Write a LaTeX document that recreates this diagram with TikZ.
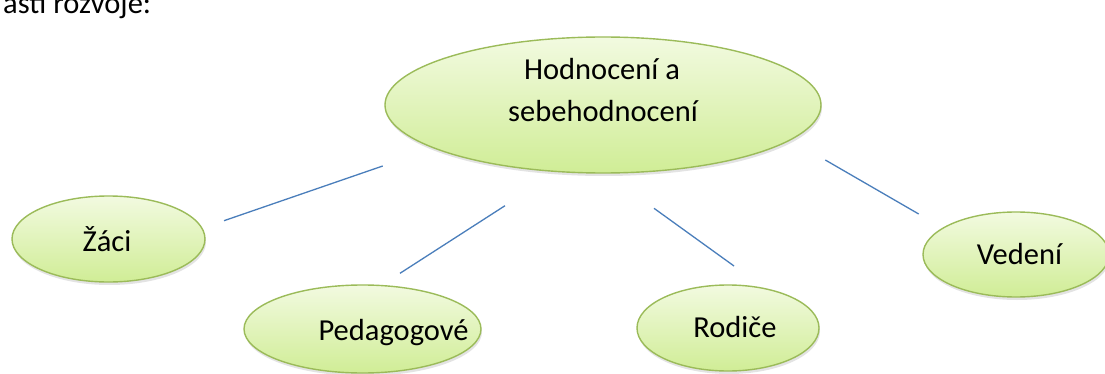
\documentclass[tikz,border=0pt]{standalone}
\usepackage{fontspec}
\setmainfont{Carlito}
\usetikzlibrary{shapes.geometric,shadows}
\definecolor{ebord}{RGB}{155,187,89}
\definecolor{etop}{RGB}{242,250,224}
\definecolor{ebot}{RGB}{208,237,150}
\definecolor{lblue}{RGB}{74,126,187}
\begin{document}
\begin{tikzpicture}[x=1pt,y=-1pt,
  bubble/.style={ellipse, draw=ebord, line width=1.4pt, top color=etop, bottom color=ebot,
    inner sep=0pt, drop shadow={opacity=0.22, shadow xshift=1pt, shadow yshift=-3pt}},
  lbl/.style={anchor=base, font=\fontsize{30.5}{42}\selectfont, inner sep=0pt, text=black},
  conn/.style={draw=lblue, line width=1.3pt}]
\useasboundingbox (0,0) rectangle (1105,374);
\clip (0,0) rectangle (1105,374);
\fill[white] (0,0) rectangle (1105,374);

\node[lbl, anchor=base west] (intro) at (3,14) {ásti rozvoje:};

\node[bubble, minimum width=436pt, minimum height=136pt] (main) at (603,105) {};
\node[bubble, minimum width=193pt, minimum height=86pt] (zaci) at (108.5,239) {};
\node[bubble, minimum width=237pt, minimum height=88pt] (ped) at (362.5,329) {};
\node[bubble, minimum width=182pt, minimum height=86pt] (rod) at (728,328) {};
\node[bubble, minimum width=186pt, minimum height=85pt] (ved) at (1016,254.5) {};

\node[lbl] (mainA) at (602,80) {Hodnocení a};
\node[lbl] (mainB) at (603,122) {sebehodnocení};
\node[lbl] (zacit) at (107,251) {Žáci};
\node[lbl] (pedt) at (393.5,340) {Pedagogové};
\node[lbl] (rodt) at (735,337) {Rodiče};
\node[lbl] (vedt) at (1019.5,264) {Vedení};

\coordinate (l1a) at (224,220.7);
\coordinate (l1b) at (382.7,166);
\coordinate (l2a) at (400,273.3);
\coordinate (l2b) at (505,205.7);
\coordinate (l3a) at (654,208.3);
\coordinate (l3b) at (734,266);
\coordinate (l4a) at (825.3,160);
\coordinate (l4b) at (918.7,214);

\draw[conn] (l1a) -- (l1b);
\draw[conn] (l2a) -- (l2b);
\draw[conn] (l3a) -- (l3b);
\draw[conn] (l4a) -- (l4b);
\end{tikzpicture}
\end{document}
